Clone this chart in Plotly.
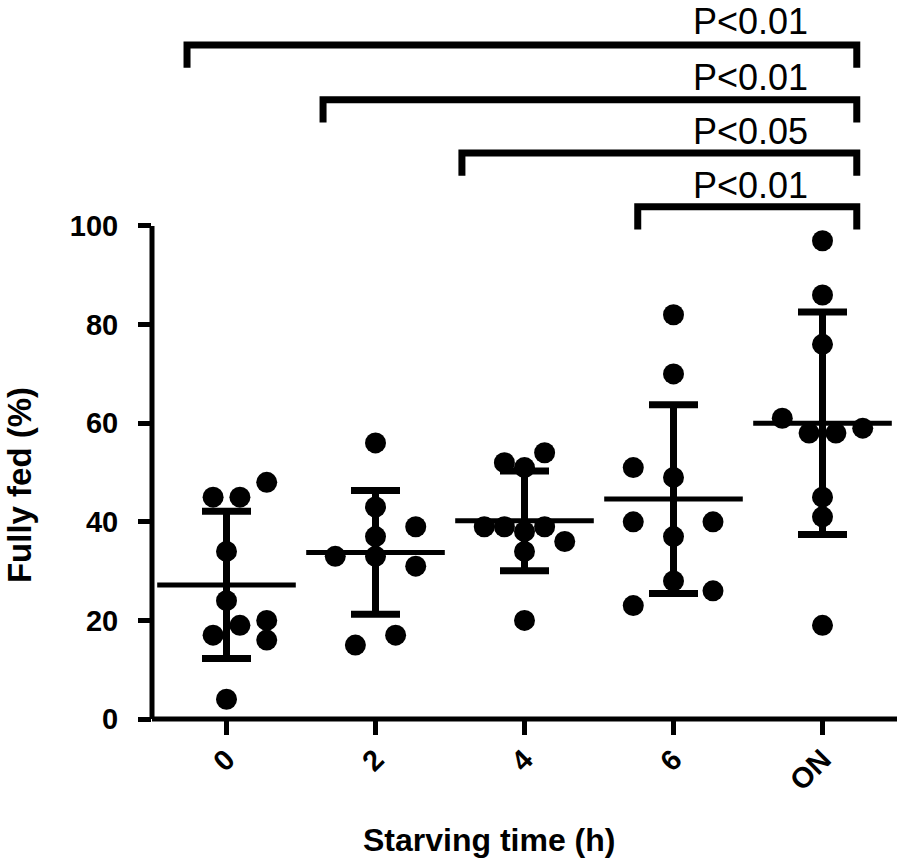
import numpy as np
import plotly.graph_objects as go

# ---- data ----
categories = ["0", "2", "4", "6", "ON"]

vals_0 = [45, 45, 48, 34, 24, 19, 17, 20, 16, 4]
vals_2 = [56, 43, 37, 39, 33, 33, 31, 17, 15]
vals_4 = [52, 51, 54, 39, 39, 38, 39, 36, 34, 20]
vals_6 = [82, 70, 51, 49, 40, 40, 37, 28, 26, 23]
vals_on = [97, 86, 76, 61, 58, 58, 59, 45, 41, 19]

# horizontal scatter (jitter) of each dot, in category units
jit_0 = [-0.09, 0.09, 0.27, 0, 0, 0.09, -0.09, 0.27, 0.27, 0]
jit_2 = [0, 0, 0, 0.27, -0.27, 0, 0.27, 0.135, -0.135]
jit_4 = [-0.135, 0, 0.135, -0.27, -0.135, 0, 0.135, 0.27, 0, 0]
jit_6 = [0, 0, -0.27, 0, -0.27, 0.265, 0, 0, 0.265, -0.27]
jit_on = [0, 0, 0, -0.27, -0.09, 0.09, 0.27, 0, 0, 0]

# significance brackets
bracket_left = [-0.265, 0.648, 1.58, 2.76]
bracket_right = [4.23, 4.23, 4.23, 4.23]
bracket_level = [136.7, 125.6, 114.8, 103.9]
bracket_drop = 4.6
bracket_labels = ["P<0.01", "P<0.01", "P<0.05", "P<0.01"]
label_x = 3.52
label_level = [141.4, 130.2, 119.1, 108.2]

y_ticks = [0, 20, 40, 60, 80, 100]

groups = [vals_0, vals_2, vals_4, vals_6, vals_on]
jitters = [jit_0, jit_2, jit_4, jit_6, jit_on]

FONT = "Arial, Liberation Sans, Helvetica, sans-serif"

fig = go.Figure()

for i, (v, j) in enumerate(zip(groups, jitters)):
    fig.add_trace(go.Scatter(
        x=[i + d for d in j], y=v, mode="markers",
        marker=dict(size=21, color="black", line=dict(width=0)),
        showlegend=False, hoverinfo="y"))

means = [float(np.mean(g)) for g in groups]
sds = [float(np.std(g, ddof=1)) for g in groups]

fig.add_trace(go.Scatter(
    x=list(range(len(categories))), y=means, mode="markers",
    marker=dict(symbol="line-ew", size=99, color="black",
                line=dict(width=5, color="black")),
    error_y=dict(type="data", array=sds, visible=True, color="black",
                 thickness=7, width=24.5),
    showlegend=False))

shapes = []
shapes.append(dict(type="line", xref="paper", yref="paper", x0=0, x1=1, y0=0, y1=0,
                   line=dict(color="black", width=5)))
shapes.append(dict(type="line", xref="paper", yref="y", x0=0, x1=0, y0=0, y1=100,
                   line=dict(color="black", width=5)))
for xl, xr, lv in zip(bracket_left, bracket_right, bracket_level):
    shapes.append(dict(
        type="path", xref="x", yref="y",
        path=f"M {xl},{lv - bracket_drop} L {xl},{lv} L {xr},{lv} L {xr},{lv - bracket_drop}",
        line=dict(color="black", width=7)))

annotations = []
for t, ly in zip(bracket_labels, label_level):
    annotations.append(dict(x=label_x, y=ly, xref="x", yref="y", text=t,
                            showarrow=False, xanchor="center", yanchor="middle",
                            font=dict(family=FONT, size=36, color="black")))
annotations.append(dict(x=-0.177, y=0.3255, xref="paper", yref="paper",
                        text="Fully fed (%)", textangle=-90, showarrow=False,
                        xanchor="center", yanchor="middle",
                        font=dict(family=FONT, size=33, color="black", weight="bold")))
annotations.append(dict(x=0.453, y=-0.168, xref="paper", yref="paper",
                        text="Starving time (h)", showarrow=False,
                        xanchor="center", yanchor="middle",
                        font=dict(family=FONT, size=32, color="black", weight="bold")))

fig.update_layout(
    width=898, height=866,
    margin=dict(l=152, r=1, t=0, b=147, pad=0),
    paper_bgcolor="white", plot_bgcolor="white",
    shapes=shapes, annotations=annotations,
    xaxis=dict(range=[-0.5, 4.5], tickmode="array",
               tickvals=list(range(len(categories))), ticktext=categories,
               tickangle=-45, ticks="outside", ticklen=15, tickwidth=5,
               tickcolor="black", showline=False, showgrid=False, zeroline=False,
               ticklabelstandoff=-4,
               tickfont=dict(family=FONT, size=29, color="black", weight="bold")),
    yaxis=dict(range=[0, 145.84], tickmode="array", tickvals=y_ticks,
               ticks="outside", ticklen=13, tickwidth=5, tickcolor="black",
               showline=False, showgrid=False, zeroline=False,
               ticklabelstandoff=14,
               tickfont=dict(family=FONT, size=29, color="black", weight="bold")),
)

fig.write_html("out.html", config={"displayModeBar": False},
               post_script="document.body.style.margin='0px';document.body.style.overflow='hidden';")
